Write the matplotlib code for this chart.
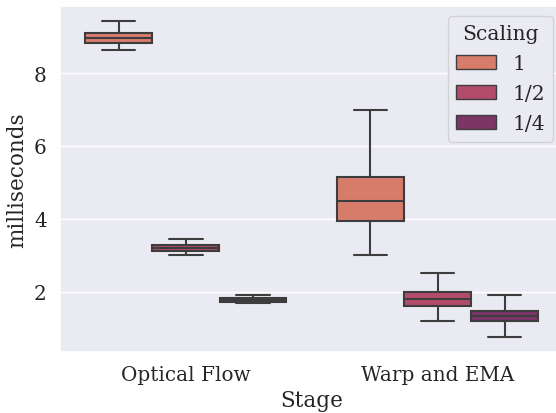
import matplotlib
matplotlib.use("Agg")
import matplotlib.pyplot as plt
import seaborn as sns
import numpy as np
from matplotlib.patches import Patch

sns.set_theme(style="darkgrid")
plt.rcParams['font.family'] = ['DejaVu Serif']

stages = ["Optical Flow", "Warp and EMA"]
scalings = ["1", "1/2", "1/4"]
colors = ["#d77b6b", "#b34c6c", "#7b3567"]

# per stage, per scaling: [whislo, q1, median, q3, whishi]
optical_flow = [
    [8.64, 8.83, 8.96, 9.10, 9.43],
    [3.01, 3.13, 3.21, 3.28, 3.44],
    [1.68, 1.73, 1.78, 1.84, 1.90],
]
warp_ema = [
    [3.01, 3.93, 4.49, 5.16, 7.00],
    [1.19, 1.62, 1.79, 2.00, 2.52],
    [0.76, 1.19, 1.33, 1.48, 1.90],
]
data = [optical_flow, warp_ema]

fig = plt.figure(figsize=(5.56, 4.14), dpi=100)
# axes runs slightly past the right edge of the canvas, as in the reference
ax = fig.add_axes([60/556, (414-352.7)/414, (563.5-60)/556, (352.7-6.7)/414])

hue_w = 0.8 / len(scalings)
line_color = "#3d3d3d"
for si, stage_vals in enumerate(data):
    for hi, vals in enumerate(stage_vals):
        lo, q1, med, q3, hi_ = vals
        pos = si - 0.4 + hue_w * (hi + 0.5)
        st = dict(whislo=lo, q1=q1, med=med, q3=q3, whishi=hi_, fliers=[])
        ax.bxp([st], positions=[pos], widths=[hue_w * 0.995], patch_artist=True,
               showfliers=False, manage_ticks=False,
               boxprops=dict(facecolor=colors[hi], edgecolor=line_color, linewidth=1.5),
               medianprops=dict(color=line_color, linewidth=1.5),
               whiskerprops=dict(color=line_color, linewidth=1.5),
               capprops=dict(color=line_color, linewidth=1.5))

ax.set_xticks(range(len(stages)))
ax.set_xticklabels(stages, fontsize=14.4)
ax.set_xlim(-0.5, 1.5)
ax.set_ylim(0.354, 9.85)
ax.set_yticks([2, 4, 6, 8])
ax.tick_params(axis='y', labelsize=14.4)
ax.grid(False, axis='x')
ax.set_xlabel("Stage", fontsize=15.5)
ax.set_ylabel("milliseconds", fontsize=15.5)

handles = [Patch(facecolor=c, edgecolor=line_color, linewidth=1.0, label=l)
           for c, l in zip(colors, scalings)]
leg = ax.legend(handles=handles, title="Scaling", loc="upper right",
                fontsize=14.6, title_fontsize=14.6, labelspacing=0.55)

fig.savefig("out.png", dpi=100)
